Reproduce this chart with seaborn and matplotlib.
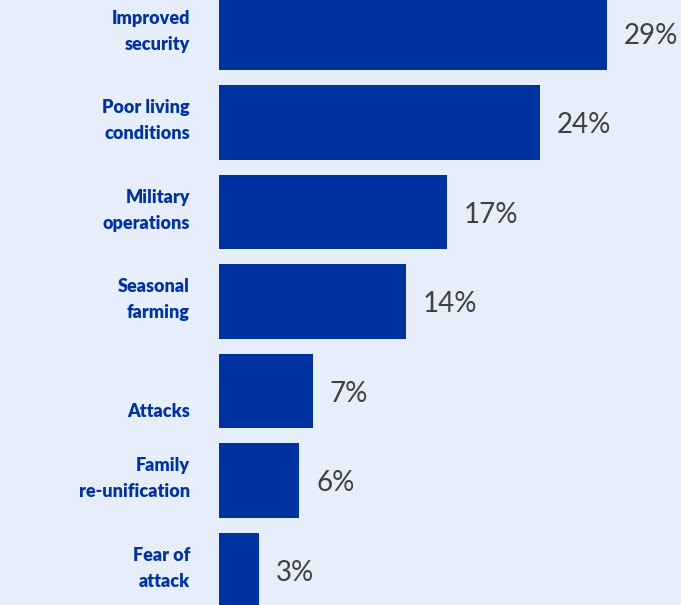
import numpy as np
import pandas as pd
import seaborn as sns
import matplotlib.pyplot as plt

# reasons for return, share of respondents
reasons = ['Improved\nsecurity', 'Poor living\nconditions', 'Military\noperations',
           'Seasonal\nfarming', 'Attacks', 'Family\nre-unification', 'Fear of\nattack']
shares = [29, 24, 17, 14, 7, 6, 3]

df = pd.DataFrame({'reason': reasons, 'share': shares})

bg = '#E6EEFA'
bar_col = '#0033A0'

sns.set_style('white')
plt.rcParams['font.family'] = ['Lato', 'DejaVu Sans']

fig = plt.figure(figsize=(6.81, 6.05), dpi=100, facecolor=bg)
ax = fig.add_axes([219 / 681, 0, 462 / 681, 1])
ax.set_facecolor(bg)

sns.barplot(data=df, y='reason', x='share', orient='h', color=bar_col,
            saturation=1, width=0.83, linewidth=0, ax=ax)

# value labels
for i, v in enumerate(shares):
    ax.annotate(f'{v}%', xy=(v, i + 0.03), xytext=(12, 0), textcoords='offset points',
                ha='left', va='center', fontsize=20, color='#404040')

ax.set_xlim(0, 34.5)
ax.set_ylim(6.39, -0.37)
ax.set_yticks([])
ax.set_xticks([])
ax.set_xlabel('')
ax.set_ylabel('')
for s in ax.spines.values():
    s.set_visible(False)

# category labels, right aligned left of the bars
for i, r in enumerate(reasons):
    y = i + 0.23 if r == 'Attacks' else i - 0.02
    ax.text(-0.063, y, r, transform=ax.get_yaxis_transform(), ha='right', va='center',
            multialignment='right', fontsize=13, fontweight='heavy', color=bar_col,
            linespacing=1.65)

fig.savefig('out.png', dpi=100, facecolor=bg)
